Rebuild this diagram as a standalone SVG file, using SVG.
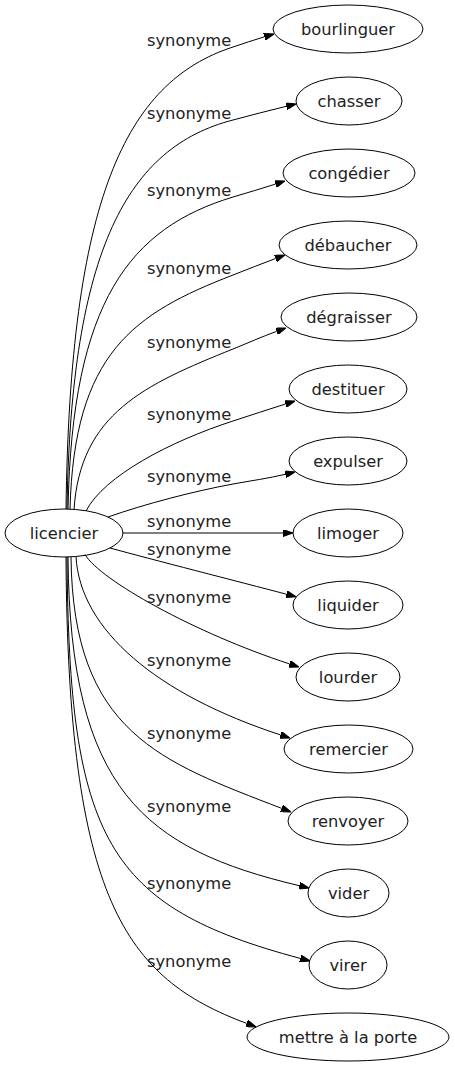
<svg xmlns="http://www.w3.org/2000/svg" width="455" height="1067" viewBox="0 0 455 1067">
<style>
.n ellipse{fill:none;stroke:#000;stroke-width:1}
text{font-family:"DejaVu Sans",sans-serif;font-size:16.3px;fill:#222}
.n text{text-anchor:middle}
.e path{fill:none;stroke:#000;stroke-width:1;marker-end:url(#ah)}
</style>
<defs>
<marker id="ah" markerWidth="10" markerHeight="7" refX="0" refY="3.5" orient="auto" markerUnits="userSpaceOnUse"><path d="M0,0 L10,3.5 L0,7 z" fill="#000" stroke="#000" stroke-width="1"/></marker>
</defs>
<rect width="455" height="1067" fill="#fff"/>
<g id="edges" class="e">
<path d="M66,509 C70,200 125,82 233,47 C243.5,43.6 253.8,39.9 264.4,36.8"/>
<path d="M67,509 C71,248 128.5,146.9 233,120 C250.4,115.5 268.8,110.4 286.3,106.3"/>
<path d="M68,509 C72,300 130.6,228.1 233,197 C247.2,192.7 261.4,188.7 275.5,184.1"/>
<path d="M70,509.5 C74,352.4 134.2,313.3 233,275 C247.2,269.5 261.3,263.8 275.6,258.5"/>
<path d="M74,510 C80,413.4 144.9,384.5 233,349 C247.6,343.1 261.8,336.7 276.6,331.4"/>
<path d="M86,511 C104,476 170.2,441.3 233,421 C250.5,415.3 268,409.5 285.5,404"/>
<path d="M108,517 C145.6,503.8 193.7,491.3 233,484 C250.4,480.8 268.1,478.4 285.3,474.3"/>
<path d="M123,533 L283,533"/>
<path d="M110,548 C150,559 240,582 286.4,594.2"/>
<path d="M85,554.5 C100,580 194.5,632.9 289.5,663.9"/>
<path d="M76,556.5 C80,630 157,694.6 280.5,734.9"/>
<path d="M71,557 C73,733 160.8,761.6 281.7,808.4"/>
<path d="M68,557 C70,790 144.1,848.9 299.3,885.7"/>
<path d="M67,557 C69,840 107,906.8 300.3,958.4"/>
<path d="M66,557 C68,900 125,978 246.7,1023.4"/>
</g>
<g id="labels">
<text x="147" y="46">synonyme</text>
<text x="147" y="119">synonyme</text>
<text x="147" y="196">synonyme</text>
<text x="147" y="274">synonyme</text>
<text x="147" y="348">synonyme</text>
<text x="147" y="420">synonyme</text>
<text x="147" y="482">synonyme</text>
<text x="147" y="527">synonyme</text>
<text x="147" y="555">synonyme</text>
<text x="147" y="603">synonyme</text>
<text x="147" y="666">synonyme</text>
<text x="147" y="739">synonyme</text>
<text x="147" y="812">synonyme</text>
<text x="147" y="889">synonyme</text>
<text x="147" y="967">synonyme</text>
</g>
<g id="licencier" class="n"><ellipse cx="64" cy="533" rx="59" ry="24"/><text x="64" y="539">licencier</text></g>
<g id="bourlinguer" class="n"><ellipse cx="348" cy="29" rx="75" ry="24"/><text x="348" y="35">bourlinguer</text></g>
<g id="chasser" class="n"><ellipse cx="349" cy="101" rx="53" ry="24"/><text x="349" y="107">chasser</text></g>
<g id="congedier" class="n"><ellipse cx="349" cy="173" rx="66" ry="24"/><text x="349" y="179">congédier</text></g>
<g id="debaucher" class="n"><ellipse cx="348" cy="245" rx="69" ry="24"/><text x="348" y="251">débaucher</text></g>
<g id="degraisser" class="n"><ellipse cx="349" cy="317" rx="68" ry="24"/><text x="349" y="323">dégraisser</text></g>
<g id="destituer" class="n"><ellipse cx="348" cy="389" rx="59" ry="24"/><text x="348" y="395">destituer</text></g>
<g id="expulser" class="n"><ellipse cx="348" cy="461" rx="59" ry="24"/><text x="348" y="467">expulser</text></g>
<g id="limoger" class="n"><ellipse cx="348" cy="533" rx="55" ry="24"/><text x="348" y="539">limoger</text></g>
<g id="liquider" class="n"><ellipse cx="348" cy="605" rx="55" ry="24"/><text x="348" y="611">liquider</text></g>
<g id="lourder" class="n"><ellipse cx="348" cy="677" rx="52" ry="24"/><text x="348" y="683">lourder</text></g>
<g id="remercier" class="n"><ellipse cx="348.5" cy="749" rx="64.5" ry="24"/><text x="348.5" y="755">remercier</text></g>
<g id="renvoyer" class="n"><ellipse cx="348" cy="821" rx="60" ry="24"/><text x="348" y="827">renvoyer</text></g>
<g id="vider" class="n"><ellipse cx="348.5" cy="893" rx="40.5" ry="24"/><text x="348.5" y="899">vider</text></g>
<g id="virer" class="n"><ellipse cx="348" cy="965" rx="39" ry="24"/><text x="348" y="971">virer</text></g>
<g id="mettre" class="n"><ellipse cx="348" cy="1037" rx="101" ry="24"/><text x="348" y="1043">mettre à la porte</text></g>
</svg>
